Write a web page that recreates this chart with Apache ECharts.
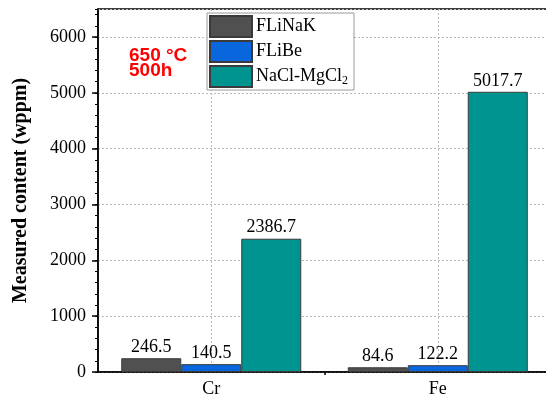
<!DOCTYPE html>
<html>
<head>
<meta charset="utf-8">
<script src="https://cdn.jsdelivr.net/npm/echarts@6/dist/echarts.min.js"></script>
<style>
  html, body { margin: 0; padding: 0; background: #fff; }
  #chart { width: 546px; height: 400px; }
</style>
</head>
<body>
<div id="chart"></div>
<script>
// Elements and measured impurity content (wppm) after 500 h at 650 °C
const elements = ['Cr', 'Fe'];
const fliNaK = [246.5, 84.6];
const fliBe = [140.5, 122.2];
const naclMgcl2 = [2386.7, 5017.7];
const seriesNames = ['FLiNaK', 'FLiBe', 'NaCl-MgCl2'];
const seriesColors = ['#505050', '#0a66dc', '#009490'];
const yMin = 0;
const yMax = 6500;
const yStep = 1000;
const yMinorStep = 200;

// helper axis: tick positions between the category centres
const guideSlots = ['', elements[0], '', elements[1], ''];

const serif = '"Liberation Serif", "Times New Roman", serif';
const chart = echarts.init(document.getElementById('chart'));

const values = [fliNaK, fliBe, naclMgcl2];

chart.setOption({
  animation: false,
  grid: {
    left: 98, top: 9, width: 453, height: 363,
    outerBoundsMode: 'none', containLabel: false,
    show: true, borderColor: '#000', borderWidth: 1.5, backgroundColor: 'transparent'
  },
  legend: {
    orient: 'vertical', left: 207, top: 13, icon: 'rect',
    padding: [2, 6, 2, 2], itemGap: 2, itemWidth: 42, itemHeight: 21,
    borderColor: '#9a9a9a', borderWidth: 1, backgroundColor: '#fff',
    data: seriesNames,
    formatter: function (n) { return n === 'NaCl-MgCl2' ? 'NaCl-MgCl{sub|2}' : n; },
    textStyle: {
      fontFamily: serif, fontSize: 18, color: '#000', padding: [0, 0, 0, -1],
      rich: { sub: { fontFamily: serif, fontSize: 12, padding: [9, 0, 0, 0], color: '#000' } }
    }
  },
  xAxis: [
    {
      type: 'category', data: elements, position: 'bottom',
      axisLine: { lineStyle: { color: '#000', width: 1.5 } },
      axisTick: { alignWithLabel: true, length: 5, lineStyle: { color: '#000', width: 1.5 } },
      axisLabel: { fontFamily: serif, fontSize: 18, color: '#000', margin: 8 },
      splitLine: { show: false }
    },
    {
      type: 'category', data: guideSlots, position: 'bottom', boundaryGap: false,
      axisLine: { show: false },
      axisTick: { show: true, length: 3, interval: function (i) { return i === 2; },
                  lineStyle: { color: '#000', width: 1.5 } },
      axisLabel: { show: false },
      splitLine: { show: true, interval: function (i, v) { return v !== ''; },
                   lineStyle: { color: '#b8b8b8', type: [2, 2], width: 1 } }
    }
  ],
  yAxis: [
    {
      type: 'value', min: yMin, max: yMax, interval: yStep,
      name: 'Measured content (wppm)', nameLocation: 'middle', nameGap: 67,
      nameTextStyle: { fontFamily: serif, fontSize: 20, fontWeight: 'bold', color: '#000' },
      axisLine: { show: true, lineStyle: { color: '#000', width: 1.5 } },
      axisTick: { show: true, length: 6, lineStyle: { color: '#000', width: 1.5 } },
      axisLabel: { fontFamily: serif, fontSize: 18, color: '#000', margin: 12, showMaxLabel: false,
                   formatter: function (v) { return String(v); } },
      splitLine: { show: true, lineStyle: { color: '#b8b8b8', type: [2, 2], width: 1 } }
    },
    {
      type: 'value', min: yMin, max: yMax, interval: yMinorStep, position: 'left',
      axisLine: { show: false },
      axisTick: { show: true, length: 3, lineStyle: { color: '#000', width: 1 } },
      axisLabel: { show: false },
      splitLine: { show: false }
    }
  ],
  series: seriesNames.map(function (name, k) {
    return {
      name: name, type: 'bar', xAxisIndex: 0, yAxisIndex: 0,
      data: values[k], barWidth: 60, barGap: '0%',
      itemStyle: { color: seriesColors[k], borderColor: '#3a3a3a', borderWidth: 1 },
      label: {
        show: true, position: 'top', distance: 2,
        fontFamily: serif, fontSize: 18, color: '#000',
        formatter: function (p) { return p.value.toFixed(1); }
      }
    };
  }),
  graphic: [
    { type: 'text', left: 129, top: 46,
      style: { text: '650 °C', font: 'bold 19px "Liberation Sans", Arial, sans-serif', fill: '#ff0000' } },
    { type: 'text', left: 129, top: 61,
      style: { text: '500h', font: 'bold 19px "Liberation Sans", Arial, sans-serif', fill: '#ff0000' } }
  ]
});
</script>
</body>
</html>
